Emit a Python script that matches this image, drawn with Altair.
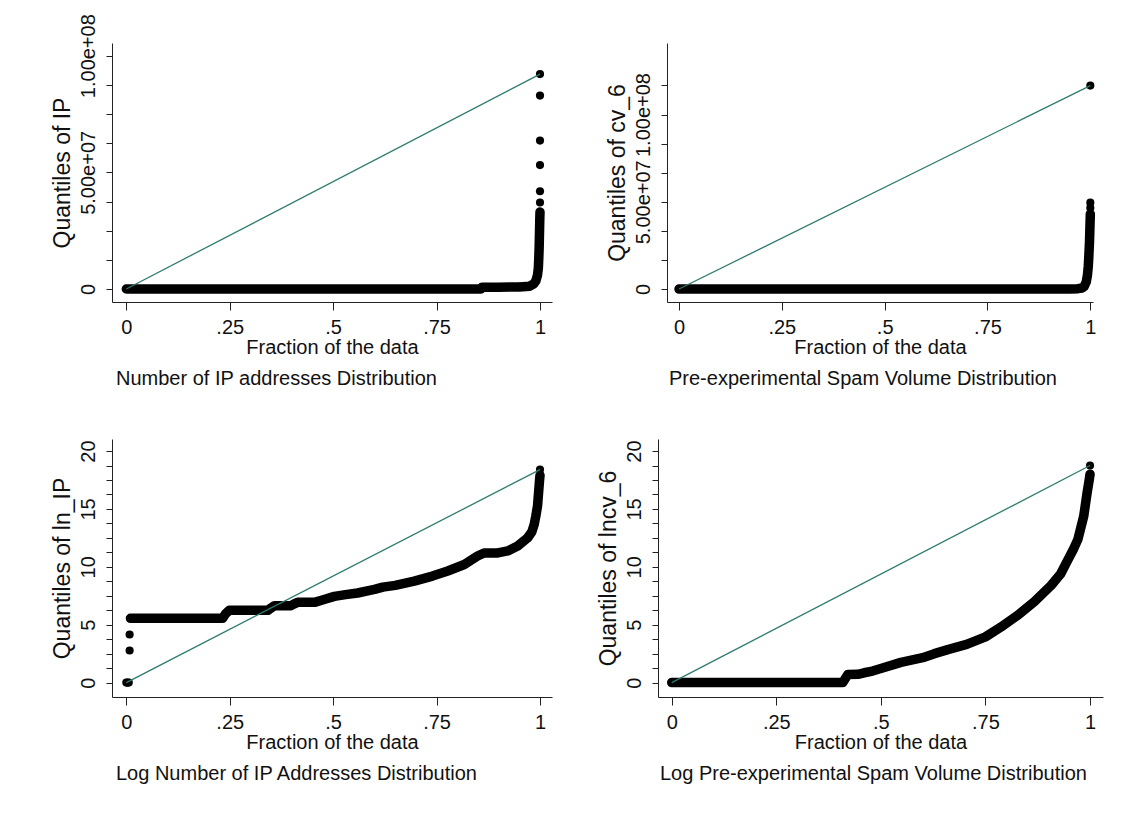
import altair as alt
import pandas as pd

FONT = "Liberation Sans"
TEAL = "#2e7b6f"
INK = "#111111"

# ---------------- Panel 1: Number of IP addresses ----------------
ip_frac = [0.0, 0.05, 0.1, 0.15, 0.2, 0.25, 0.3, 0.35, 0.4, 0.45, 0.5, 0.55, 0.6, 0.65,
           0.7, 0.75, 0.8, 0.85, 0.857, 0.86, 0.9, 0.95, 0.975, 0.985, 0.99, 0.994,
           0.996, 0.997, 0.998, 0.9985, 0.999, 0.9995, 1.0]
ip_q = [0, 0, 0, 0, 0, 0, 0, 0, 0, 0, 0, 0, 0, 0,
        0, 0, 0, 0, 0, 8e5, 8e5, 9e5, 1.2e6, 2.2e6, 3.5e6, 6e6,
        9e6, 1.3e7, 1.8e7, 2.2e7, 2.6e7, 3.0e7, 3.3e7]
ip_top_frac = [1.0, 1.0, 1.0, 1.0, 1.0, 1.0]
ip_top_q = [3.71e7, 4.19e7, 5.31e7, 6.36e7, 8.29e7, 9.21e7]

# ---------------- Panel 2: Pre-experimental spam volume ----------------
cv_frac = [0.0, 0.05, 0.1, 0.15, 0.2, 0.25, 0.3, 0.35, 0.4, 0.45, 0.5, 0.55, 0.6, 0.65,
           0.7, 0.75, 0.8, 0.85, 0.9, 0.95, 0.97, 0.98, 0.985, 0.99, 0.993, 0.995,
           0.996, 0.997, 0.998, 0.9985, 0.999, 0.9995, 1.0]
cv_q = [0, 0, 0, 0, 0, 0, 0, 0, 0, 0, 0, 0, 0, 0,
        0, 0, 0, 0, 0, 0, 2e5, 6e5, 1.5e6, 4e6, 8e6, 1.3e7,
        1.7e7, 2.2e7, 2.7e7, 3.1e7, 3.5e7, 3.9e7, 4.3e7]
cv_top_frac = [1.0, 1.0, 1.0]
cv_top_q = [4.65e7, 4.95e7, 1.166e8]

# ---------------- Panel 3: log number of IP addresses ----------------
lnip_frac = [0.01, 0.05, 0.1, 0.15, 0.2, 0.233, 0.24, 0.249, 0.3, 0.342, 0.35, 0.358,
             0.398, 0.406, 0.414, 0.455, 0.48, 0.503, 0.53, 0.559, 0.6, 0.62, 0.65, 0.696,
             0.74, 0.777, 0.817, 0.849, 0.865, 0.898, 0.922, 0.946, 0.97, 0.98, 0.986,
             0.99, 0.994, 0.997, 0.999, 1.0]
lnip_q = [5.55, 5.55, 5.55, 5.55, 5.55, 5.55, 5.95, 6.24, 6.24, 6.24, 6.45, 6.64,
          6.64, 6.8, 6.93, 6.93, 7.2, 7.45, 7.6, 7.74, 8.05, 8.25, 8.4, 8.77,
          9.2, 9.64, 10.2, 10.93, 11.2, 11.2, 11.37, 11.8, 12.5, 13.0, 13.67,
          14.4, 15.25, 16.6, 17.5, 17.9]
lnip_extra_frac = [0.0, 0.003, 0.006, 0.008, 0.008, 1.0]
lnip_extra_q = [0, 0, 0, 2.77, 4.16, 18.4]

# ---------------- Panel 4: log pre-experimental spam volume ----------------
lncv_frac = [0.0, 0.05, 0.1, 0.15, 0.2, 0.25, 0.3, 0.35, 0.4, 0.409, 0.415, 0.421,
             0.445, 0.46, 0.48, 0.5, 0.548, 0.6, 0.628, 0.66, 0.705, 0.75, 0.787,
             0.83, 0.867, 0.907, 0.93, 0.947, 0.96, 0.971, 0.985, 0.993, 0.998, 1.0]
lncv_q = [0, 0, 0, 0, 0, 0, 0, 0, 0, 0, 0.35, 0.69,
          0.72, 0.85, 1.0, 1.22, 1.75, 2.15, 2.5, 2.85, 3.3, 3.95, 4.8,
          5.9, 7.0, 8.4, 9.4, 10.6, 11.5, 12.37, 14.39, 16.4, 17.5, 18.0]
lncv_extra_frac = [1.0]
lncv_extra_q = [18.75]

x_ticks = [0, 0.25, 0.5, 0.75, 1]
x_label_expr = ("datum.value == 0 ? '0' : datum.value == 0.25 ? '.25' : "
                "datum.value == 0.5 ? '.5' : datum.value == 0.75 ? '.75' : '1'")

big1_ticks = [0, 1.25e7, 2.5e7, 3.75e7, 5e7, 6.25e7, 7.5e7, 8.75e7, 1e8]
big2_ticks = [0, 1.6667e7, 3.3333e7, 5e7, 6.6667e7, 8.3333e7, 1e8, 1.16667e8]
big_label_expr = ("datum.value == 0 ? '0' : datum.value == 50000000 ? '5.00e+07' : "
                  "datum.value == 100000000 ? '1.00e+08' : ''")
log_ticks = [0, 1.25, 2.5, 3.75, 5, 6.25, 7.5, 8.75, 10, 11.25, 12.5, 13.75, 15,
             16.25, 17.5, 18.75, 20]
log_label_expr = "datum.value % 5 == 0 ? format(datum.value, 'd') : ''"


def panel(frac, q, extra_frac, extra_q, xdom, ydom, yticks, ylabel_expr, ytitle,
          caption, w, h, dx):
    dense = pd.DataFrame({"f": frac, "q": q, "i": list(range(len(frac)))})
    pts = pd.DataFrame({"f": frac + extra_frac, "q": q + extra_q})
    allq = q + extra_q
    ref = pd.DataFrame({"f": [0.0, 1.0], "q": [min(allq), max(allq)]})

    x = alt.X("f:Q",
              scale=alt.Scale(domain=xdom, nice=False, zero=False),
              axis=alt.Axis(values=x_ticks, labelExpr=x_label_expr,
                            title="Fraction of the data", grid=False,
                            tickSize=8, labelPadding=7, titlePadding=0,
                            labelFlush=False, labelOverlap=False,
                            labelFontSize=20, titleFontSize=20))
    y = alt.Y("q:Q",
              scale=alt.Scale(domain=ydom, nice=False, zero=False),
              axis=alt.Axis(values=yticks, labelExpr=ylabel_expr, title=ytitle,
                            grid=False, tickSize=6, labelAngle=270,
                            labelAlign="center", labelBaseline="bottom",
                            labelPadding=8, titlePadding=4, labelFlush=False,
                            labelOverlap=False, labelFontSize=20,
                            titleFontSize=23))

    band = alt.Chart(dense).mark_line(
        color="black", strokeWidth=9.5, strokeCap="round", strokeJoin="round"
    ).encode(x=x, y=y, order="i:Q")
    dots = alt.Chart(pts).mark_circle(color="black", size=66, opacity=1).encode(x=x, y=y)
    refl = alt.Chart(ref).mark_line(color=TEAL, strokeWidth=1.3).encode(x=x, y=y)

    return alt.layer(band, dots, refl).properties(
        width=w, height=h,
        title=alt.TitleParams(caption, orient="bottom", anchor="start", frame="group",
                              dx=dx, offset=12, fontSize=20, font=FONT,
                              fontWeight="normal", color=INK),
    )


p1 = panel(ip_frac, ip_q, ip_top_frac, ip_top_q, [-0.0346, 1.029], [-5.57e6, 1.0544e8],
           big1_ticks, big_label_expr, "Quantiles of IP",
           "Number of IP addresses Distribution", 440, 259, 4)
p2 = panel(cv_frac, cv_q, cv_top_frac, cv_top_q, [-0.0292, 1.0065], [-7.43e6, 1.41e8],
           big2_ticks, big_label_expr, "Quantiles of cv_6",
           "Pre-experimental Spam Volume Distribution", 426, 259, 2)
p3 = panel(lnip_frac, lnip_q, lnip_extra_frac, lnip_extra_q, [-0.0346, 1.029],
           [-1.243, 21.04], log_ticks, log_label_expr, "Quantiles of ln_IP",
           "Log Number of IP Addresses Distribution", 440, 258, 4)
p4 = panel(lncv_frac, lncv_q, lncv_extra_frac, lncv_extra_q, [-0.0328, 1.031],
           [-1.243, 21.04], log_ticks, log_label_expr, "Quantiles of lncv_6",
           "Log Pre-experimental Spam Volume Distribution", 445, 258, 2)

row1 = alt.hconcat(p1, p2, spacing=115, bounds="flush")
row2 = alt.hconcat(p3, p4, spacing=106, bounds="flush")

chart = alt.vconcat(row1, row2, spacing=50).properties(
    padding={"left": 42, "top": 5, "right": 5, "bottom": 5},
    background="white",
).configure_view(stroke=None).configure_axis(
    labelFont=FONT, titleFont=FONT, labelColor=INK, titleColor=INK,
    titleFontWeight="normal", domainColor="#222222", tickColor="#222222",
    domainWidth=1, tickWidth=1,
)

chart.save("out.html", embed_options={"renderer": "svg", "actions": False})
